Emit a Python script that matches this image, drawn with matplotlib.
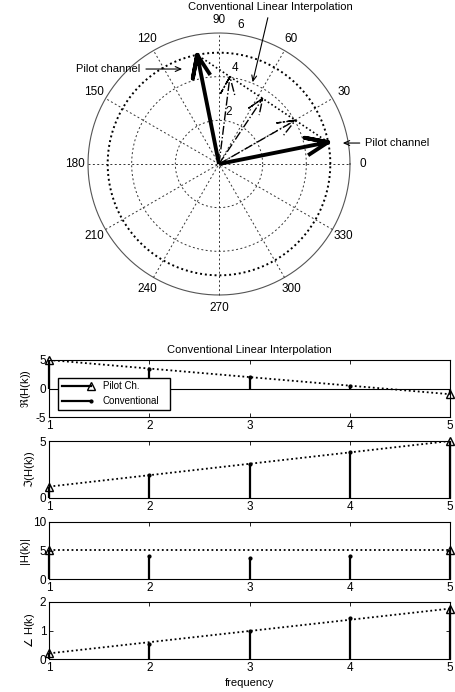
import numpy as np
import matplotlib
matplotlib.use('Agg')
import matplotlib.pyplot as plt
from matplotlib.lines import Line2D
from matplotlib.legend_handler import HandlerLine2D

plt.rcParams['font.family'] = ['Liberation Sans', 'DejaVu Sans']
plt.rcParams['mathtext.fontset'] = 'dejavusans'
plt.rcParams['font.size'] = 8
plt.rcParams['axes.unicode_minus'] = False

# channel samples H(k), k = 1..5 (pilots at k=1 and k=5)
k = [1, 2, 3, 4, 5]
pilot_idx = [0, 4]
conv_idx = [1, 2, 3]
h_real = [5.0, 3.5, 2.0, 0.5, -1.0]
h_imag = [1.0, 2.0, 3.0, 4.0, 5.0]

r_max = 6
r_ticks = [2, 4, 6]
theta_ticks = list(range(0, 360, 30))

H = np.array(h_real) + 1j * np.array(h_imag)
mag = np.abs(H)
ang = np.angle(H)
kk = np.array(k)


class EndMarker(HandlerLine2D):
    # marker at the right end of the legend line, like matlab
    def create_artists(self, *args, **kwargs):
        arts = super().create_artists(*args, **kwargs)
        arts[0].set_markevery([2])
        return arts


fig = plt.figure(figsize=(4.55, 6.92), dpi=100)

# ---------------- polar (compass) part, drawn matlab style ----------------
scale = 131.0 / r_max   # px per unit
cx, cy = 219, 164
pol = fig.add_axes([0, 372 / 692, 1, 320 / 692])
pol.set_xlim(-cx / scale, (455 - cx) / scale)
pol.set_ylim(-(320 - cy) / scale, cy / scale)
pol.axis('off')

t = np.linspace(0, 2 * np.pi, 400)
grid_kw = dict(color='#333333', lw=0.7, ls=(0, (2, 2.5)))
for r in r_ticks[:-1]:
    pol.plot(r * np.cos(t), r * np.sin(t), **grid_kw)
pol.plot(r_max * np.cos(t), r_max * np.sin(t), color='#555555', lw=0.8)
for th in theta_ticks[:6]:
    a = np.deg2rad(th)
    pol.plot([-r_max * np.cos(a), r_max * np.cos(a)],
             [-r_max * np.sin(a), r_max * np.sin(a)], **grid_kw)
for th in theta_ticks:
    a = np.deg2rad(th)
    pol.text(1.1 * r_max * np.cos(a), 1.1 * r_max * np.sin(a), str(th),
             ha='center', va='center', fontsize=8.5)
a82 = np.deg2rad(82)
for r in r_ticks:
    pol.text((r + 0.15) * np.cos(a82), (r + 0.15) * np.sin(a82), str(r),
             ha='left', va='bottom', fontsize=8.5)

# pilot magnitude circle and linear interpolation chord
pol.plot(mag[0] * np.cos(t), mag[0] * np.sin(t), color='black', lw=1.4, ls=(0, (1, 1.5)))
pol.plot(H[pilot_idx].real, H[pilot_idx].imag, color='black', lw=1.2, ls=(0, (1, 1.5)))


def arrow_pts(z):
    p = np.array([0, z, 0.8 * z + 0.08j * z, z, 0.8 * z - 0.08j * z])
    return p.real, p.imag


for i in pilot_idx:
    x, y = arrow_pts(H[i])
    pol.plot(x, y, color='black', lw=2.8, solid_capstyle='butt')
for i in conv_idx:
    x, y = arrow_pts(H[i])
    pol.plot(x, y, color='black', lw=1.0, ls='-.')

ann_kw = dict(arrowstyle='->,head_length=0.5,head_width=0.22', color='black', lw=0.8)
pol.annotate('Conventional Linear Interpolation', xy=(1.51, 3.62), xytext=(2.35, 6.95),
             ha='center', va='bottom', fontsize=8, arrowprops=ann_kw, annotation_clip=False)
pol.annotate('Pilot channel', xy=(-1.56, 4.35), xytext=(-3.6, 4.35),
             ha='right', va='center', fontsize=8, arrowprops=ann_kw, annotation_clip=False)
pol.annotate('Pilot channel', xy=(5.54, 0.96), xytext=(6.7, 0.96),
             ha='left', va='center', fontsize=8, arrowprops=ann_kw, annotation_clip=False)

# ---------------- stem subplots ----------------
panels = [
    (H.real, [-5, 5], [-5, 0, 5], r'$\Re$(H(k))'),
    (H.imag, [0, 5], [0, 5], r'$\Im$(H(k))'),
    (mag, [0, 10], [0, 5, 10], '|H(k)|'),
    (ang, [0, 2], [0, 1, 2], r'$\angle$ H(k)'),
]
tops = [360, 441, 522, 602]
axes = []
for (vals, ylim, yticks, ylab), top in zip(panels, tops):
    ax = fig.add_axes([49 / 455, (692 - top - 57) / 692, 401 / 455, 57 / 692])
    ax.vlines(kk[conv_idx], 0, vals[conv_idx], color='black', lw=1.6)
    ax.plot(kk[conv_idx], vals[conv_idx], '.', color='black', ms=4)
    ax.vlines(kk[pilot_idx], 0, vals[pilot_idx], color='black', lw=1.6, clip_on=False)
    ax.plot(kk[pilot_idx], vals[pilot_idx], '^', color='black', mfc='none', ms=6,
            mew=1.0, clip_on=False, zorder=5)
    ax.plot(kk[pilot_idx], vals[pilot_idx], color='black', lw=1.3, ls=(0, (1, 1.5)))
    if ylim[0] < 0:
        ax.axhline(0, color='black', lw=0.8)
    ax.set_xlim(1, 5)
    ax.set_ylim(ylim)
    ax.set_xticks(k)
    ax.set_yticks(yticks)
    ax.set_ylabel(ylab, labelpad=2)
    ax.tick_params(direction='in', top=True, right=True, length=3, width=0.6, pad=2,
                   labelsize=8.5)
    for s in ax.spines.values():
        s.set_linewidth(0.8)
    axes.append(ax)

axes[0].set_title('Conventional Linear Interpolation', fontsize=8, pad=5)
axes[-1].set_xlabel('frequency', labelpad=3)

h_pilot = Line2D([], [], color='black', lw=1.6, marker='^', mfc='none', ms=6)
h_conv = Line2D([], [], color='black', lw=1.6, marker='.', ms=4)
axes[0].legend([h_pilot, h_conv], ['Pilot Ch.', 'Conventional'],
               handler_map={h_pilot: EndMarker(), h_conv: EndMarker()},
               loc='lower left', bbox_to_anchor=(0.022, 0.12, 0.28, 0.58), mode='expand',
               borderaxespad=0, fancybox=False, edgecolor='black', framealpha=1,
               handlelength=3.0, numpoints=1, fontsize=7, borderpad=0.4,
               labelspacing=0.5, handletextpad=1.2)

fig.savefig('out.png', dpi=100)
